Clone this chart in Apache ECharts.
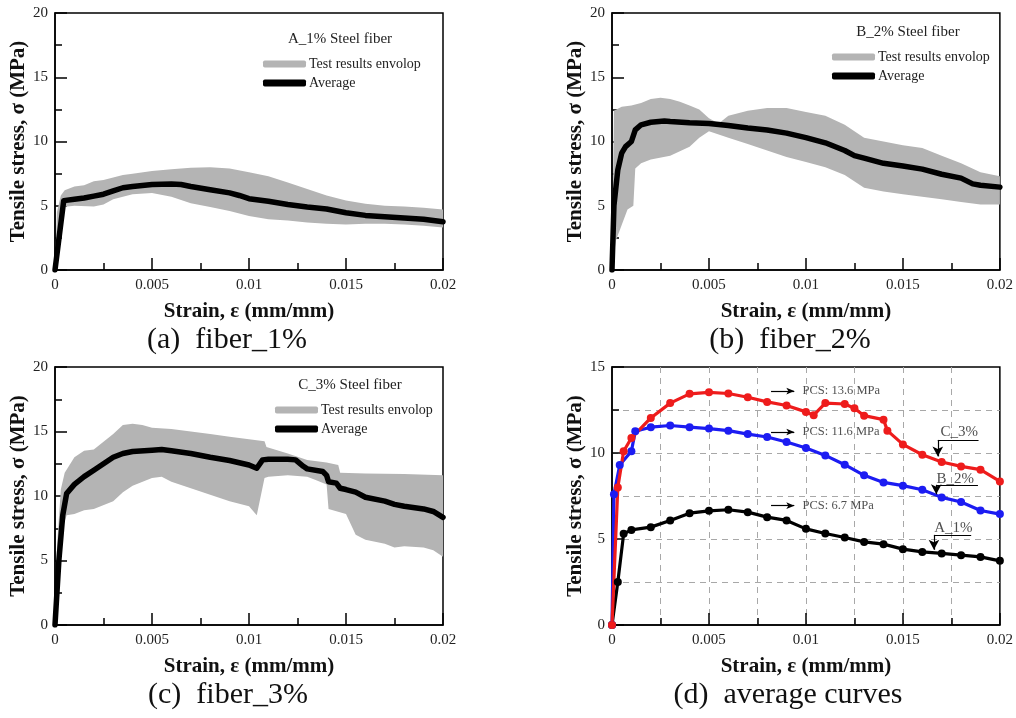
<!DOCTYPE html>
<html><head><meta charset="utf-8">
<script src="https://cdn.jsdelivr.net/npm/echarts@6/dist/echarts.min.js"></script>
<style>html,body{margin:0;padding:0;background:#fff}#c{width:1016px;height:718px}</style>
</head><body><div id="c"></div><script>
// ---------- data ----------
const avgA = [[0,0],[0.0002,2.4],[0.00045,5.4],[0.001,5.5],[0.0015,5.6],[0.002,5.75],[0.0025,5.9],[0.003,6.15],[0.0035,6.4],[0.004,6.5],[0.005,6.65],[0.006,6.7],[0.0065,6.65],[0.007,6.5],[0.008,6.25],[0.009,6.0],[0.0095,5.8],[0.01,5.55],[0.011,5.35],[0.012,5.1],[0.013,4.9],[0.014,4.75],[0.015,4.45],[0.016,4.25],[0.017,4.15],[0.018,4.05],[0.019,3.95],[0.02,3.75]];
const upA = [[0,0],[0.0001,4.5],[0.0003,5.8],[0.0005,6.2],[0.001,6.5],[0.0015,6.6],[0.002,6.9],[0.0025,7.0],[0.003,7.2],[0.0035,7.4],[0.004,7.5],[0.005,7.7],[0.006,7.85],[0.007,7.95],[0.008,8.0],[0.009,7.9],[0.01,7.6],[0.011,7.3],[0.012,6.8],[0.013,6.3],[0.014,5.8],[0.015,5.4],[0.016,5.15],[0.017,5.0],[0.018,4.95],[0.019,4.85],[0.02,4.7]];
const lowA = [[0,0],[0.0004,4.9],[0.001,5.0],[0.002,4.95],[0.0025,5.1],[0.003,5.5],[0.004,5.9],[0.005,6.0],[0.006,5.7],[0.007,5.2],[0.008,4.9],[0.009,4.6],[0.01,4.2],[0.011,3.95],[0.012,3.85],[0.013,3.7],[0.014,3.6],[0.015,3.55],[0.016,3.6],[0.017,3.6],[0.018,3.55],[0.019,3.45],[0.02,3.3]];

const avgB = [[0,0],[0.0001,5],[0.0003,7.8],[0.0005,9.1],[0.0007,9.6],[0.001,10.0],[0.0011,10.1],[0.0012,10.9],[0.0015,11.3],[0.002,11.5],[0.0027,11.6],[0.003,11.55],[0.004,11.45],[0.005,11.4],[0.006,11.25],[0.007,11.05],[0.008,10.9],[0.009,10.65],[0.01,10.3],[0.011,9.9],[0.012,9.3],[0.0125,8.9],[0.013,8.7],[0.014,8.3],[0.015,8.1],[0.016,7.85],[0.017,7.45],[0.018,7.15],[0.0186,6.7],[0.019,6.6],[0.02,6.45]];
const upB = [[0,0],[0.0001,12.4],[0.0005,12.7],[0.001,12.8],[0.0015,13.0],[0.002,13.3],[0.0025,13.4],[0.003,13.3],[0.0035,13.1],[0.004,12.8],[0.0045,12.5],[0.005,11.8],[0.0055,11.4],[0.006,12.0],[0.007,12.4],[0.008,12.6],[0.009,12.6],[0.01,12.3],[0.011,12.0],[0.012,11.3],[0.013,10.3],[0.014,10.0],[0.015,9.7],[0.016,9.5],[0.017,8.9],[0.018,8.3],[0.019,7.6],[0.02,7.3]];
const lowB = [[0,0],[0.0002,2.3],[0.0005,3.5],[0.0008,4.7],[0.0011,5.0],[0.0012,7.9],[0.0015,8.3],[0.002,8.6],[0.003,8.9],[0.004,9.6],[0.0045,10.3],[0.005,10.8],[0.006,10.3],[0.007,9.8],[0.008,9.3],[0.009,8.8],[0.01,8.4],[0.011,8.0],[0.012,7.4],[0.013,6.4],[0.014,6.1],[0.015,5.9],[0.016,5.7],[0.017,5.5],[0.018,5.3],[0.019,5.1],[0.02,5.1]];

const avgC = [[0,0],[0.0002,5],[0.0004,8.5],[0.0006,10.2],[0.001,10.9],[0.0015,11.5],[0.002,12.0],[0.0025,12.5],[0.003,13.0],[0.0035,13.3],[0.004,13.45],[0.005,13.55],[0.0055,13.6],[0.006,13.5],[0.007,13.3],[0.008,13.0],[0.009,12.75],[0.01,12.4],[0.0104,12.15],[0.0107,12.8],[0.011,12.85],[0.012,12.85],[0.0124,12.8],[0.0128,12.3],[0.013,12.1],[0.0138,11.9],[0.014,11.6],[0.0141,11.1],[0.0145,11.0],[0.0147,10.6],[0.015,10.5],[0.0155,10.3],[0.016,9.9],[0.017,9.6],[0.0175,9.35],[0.018,9.2],[0.019,9.0],[0.0195,8.8],[0.02,8.35]];
const upC = [[0,0],[0.0001,6],[0.0003,10.5],[0.0005,11.8],[0.001,13.0],[0.0015,13.5],[0.002,13.6],[0.0025,14.2],[0.003,14.8],[0.0035,15.5],[0.004,15.6],[0.0045,15.5],[0.005,15.3],[0.006,15.2],[0.007,15.0],[0.008,14.8],[0.009,14.6],[0.01,14.4],[0.0108,14.25],[0.0109,13.8],[0.012,13.3],[0.013,12.8],[0.014,12.6],[0.0146,12.4],[0.0147,11.8],[0.016,11.75],[0.018,11.7],[0.02,11.6]];
const lowC = [[0,0],[0.0002,4],[0.0004,7.5],[0.0006,8.5],[0.001,8.6],[0.0015,8.9],[0.002,9.0],[0.003,9.6],[0.0035,10.3],[0.004,10.8],[0.005,11.4],[0.0055,11.5],[0.006,11.1],[0.007,10.6],[0.008,10.1],[0.009,9.6],[0.01,9.2],[0.0104,8.5],[0.0108,11.4],[0.011,11.5],[0.012,11.6],[0.013,11.5],[0.0135,11.2],[0.014,10.9],[0.0141,9.0],[0.015,8.6],[0.0155,7.0],[0.016,6.6],[0.017,6.3],[0.0175,6.0],[0.018,6.1],[0.019,6.0],[0.0195,5.8],[0.02,5.3]];

const dA = [[0,0],[0.0003,2.5],[0.0006,5.3],[0.001,5.53],[0.002,5.69],[0.003,6.08],[0.004,6.5],[0.005,6.64],[0.006,6.7],[0.007,6.56],[0.008,6.27],[0.009,6.08],[0.01,5.59],[0.011,5.32],[0.012,5.09],[0.013,4.83],[0.014,4.7],[0.015,4.41],[0.016,4.25],[0.017,4.16],[0.018,4.06],[0.019,3.96],[0.02,3.73]];
const dB = [[0,0],[0.0001,7.6],[0.0004,9.3],[0.001,10.1],[0.0012,11.26],[0.002,11.5],[0.003,11.6],[0.004,11.5],[0.005,11.42],[0.006,11.3],[0.007,11.1],[0.008,10.93],[0.009,10.64],[0.01,10.29],[0.011,9.86],[0.012,9.32],[0.013,8.7],[0.014,8.29],[0.015,8.1],[0.016,7.86],[0.017,7.42],[0.018,7.15],[0.019,6.66],[0.02,6.45]];
const dC = [[0,0],[0.0003,8],[0.0006,10.1],[0.001,10.87],[0.002,12.04],[0.003,12.9],[0.004,13.44],[0.005,13.53],[0.006,13.46],[0.007,13.24],[0.008,12.97],[0.009,12.76],[0.01,12.39],[0.0104,12.2],[0.011,12.9],[0.012,12.85],[0.0125,12.6],[0.013,12.17],[0.014,11.94],[0.0142,11.3],[0.015,10.5],[0.016,9.9],[0.017,9.48],[0.018,9.22],[0.019,9.03],[0.02,8.35]];

const panelTitles = ['A_1% Steel fiber','B_2% Steel fiber','C_3% Steel fiber'];
const captions = ['(a)  fiber_1%','(b)  fiber_2%','(c)  fiber_3%','(d)  average curves'];
const legendNames = ['Test results envolop','Average'];
const yMaxes = [20,20,20,15];
const xName = 'Strain, \u03b5 (mm/mm)';
const yName = 'Tensile stress, \u03c3 (MPa)';

// panel d annotations (data coordinates)
const pcsLabels = [[0.0098,13.6,'PCS: 13.6 MPa'],[0.0098,11.22,'PCS: 11.6 MPa'],[0.0098,6.94,'PCS: 6.7 MPa']];
const pcsArrowX = [0.0082,0.0094];
const curveLabels = [[0.0179,11.2,'C_3%'],[0.0177,8.5,'B_2%'],[0.0176,5.66,'A_1%']];
const curvePointers = [ // [xStart, xEnd, yLine, yArrowTip]
  [0.0168,0.0189,10.76,9.8],
  [0.01672,0.01887,8.15,7.6],
  [0.0166,0.01852,5.24,4.37]
];

// ---------- chart ----------
const FONT = "'Liberation Serif','Times New Roman',Times,serif";
const GRAY = '#b4b4b4';
const grids = [
  {left:55, top:13, width:388, height:257},
  {left:612, top:13, width:388, height:257},
  {left:55, top:367, width:388, height:258},
  {left:612, top:367, width:389, height:258}
].map(g => Object.assign(g, {show:true, borderColor:'#000', borderWidth:1.5, backgroundColor:'transparent'}));

const tickStyle = {color:'#000', width:1.5};
const dashed = {show:true, showMinLine:false, showMaxLine:false, lineStyle:{type:[6,5], color:'#a8a8a8', width:1}};

const xAxes = [0,1,2,3].map(gi => ({
  type:'value', gridIndex:gi, min:0, max:0.02, interval:0.005,
  name:xName, nameLocation:'middle', nameGap:31,
  nameTextStyle:{fontFamily:FONT, fontWeight:'bold', fontSize:21, color:'#111'},
  axisLine:{onZero:false, lineStyle:tickStyle},
  axisTick:{inside:true, length:12, lineStyle:tickStyle},
  minorTick:{show:true, splitNumber:2, length:7, lineStyle:tickStyle},
  axisLabel:{fontFamily:FONT, fontSize:15, color:'#222', margin:8, formatter:v => String(+v.toFixed(3))},
  splitLine: gi===3 ? dashed : {show:false},
  minorSplitLine: gi===3 ? dashed : {show:false}
}));
const yAxes = [0,1,2,3].map(gi => ({
  type:'value', gridIndex:gi, min:0, max:yMaxes[gi], interval:5,
  name:yName, nameLocation:'middle', nameGap:25,
  nameTextStyle:{fontFamily:FONT, fontWeight:'bold', fontSize:21, color:'#111'},
  axisLine:{onZero:false, lineStyle:tickStyle},
  axisTick:{inside:true, length:12, lineStyle:tickStyle},
  minorTick:{show:true, splitNumber:2, length:7, lineStyle:tickStyle},
  axisLabel:{fontFamily:FONT, fontSize:15, color:'#222', margin:7},
  splitLine: gi===3 ? dashed : {show:false},
  minorSplitLine: gi===3 ? dashed : {show:false}
}));

function band(up, low, gi){
  return {
    type:'custom', name:legendNames[0], coordinateSystem:'cartesian2d',
    xAxisIndex:gi, yAxisIndex:gi, data:[[0,0]], silent:true, z:1,
    itemStyle:{color:GRAY},
    renderItem:function(params, api){
      const pts = up.map(p => api.coord(p)).concat(low.slice().reverse().map(p => api.coord(p)));
      return {type:'polygon', shape:{points:pts}, style:{fill:GRAY}};
    }
  };
}
function avg(data, gi){
  return {type:'line', name:legendNames[1], xAxisIndex:gi, yAxisIndex:gi, data:data,
    symbol:'none', showSymbol:false, silent:true, z:3,
    lineStyle:{color:'#000', width:5.5, join:'round', cap:'round'}, itemStyle:{color:'#000'}};
}
function dLine(name, data, color){
  return {type:'line', name:name, xAxisIndex:3, yAxisIndex:3, data:data,
    symbol:'circle', symbolSize:8, silent:true, z:3,
    lineStyle:{color:color, width:3.2}, itemStyle:{color:color}};
}

const arrowLines = [];
pcsLabels.forEach(p => arrowLines.push([{coord:[pcsArrowX[0],p[1]], symbol:'none'},{coord:[pcsArrowX[1],p[1]], symbol:'arrow', symbolSize:[5,8]}]));
curvePointers.forEach(c => {
  arrowLines.push([{coord:[c[0],c[2]], symbol:'none'},{coord:[c[1],c[2]], symbol:'none'}]);
  arrowLines.push([{coord:[c[0],c[2]], symbol:'none'},{coord:[c[0],c[3]], symbol:'arrow', symbolSize:[8,10]}]);
});

const clear = 'rgba(0,0,0,0)';
const annoSeries = [
  {type:'scatter', xAxisIndex:3, yAxisIndex:3, silent:true, z:5, symbolSize:1, itemStyle:{color:clear},
   data: pcsLabels.map(p => ({value:[p[0],p[1]], name:p[2]})),
   label:{show:true, position:'right', distance:0, formatter:p => p.name, fontFamily:FONT, fontSize:12.5, color:'#222'},
   markLine:{silent:true, animation:false, label:{show:false}, lineStyle:{color:'#000', width:1.2, type:'solid'},
     data: arrowLines}},
  {type:'scatter', xAxisIndex:3, yAxisIndex:3, silent:true, z:5, symbolSize:1, itemStyle:{color:clear},
   data: curveLabels.map(p => ({value:[p[0],p[1]], name:p[2]})),
   label:{show:true, position:'inside', formatter:p => p.name, fontFamily:FONT, fontSize:15, color:'#222'}}
];

const legendPos = [{left:258, top:52},{left:827, top:45},{left:270, top:398}];
const legends = legendPos.map(p => ({
  left:p.left, top:p.top, orient:'vertical', itemWidth:43, itemHeight:7, itemGap:5, selectedMode:false,
  textStyle:{fontFamily:FONT, fontSize:14, color:'#222', padding:[0,0,0,-2]},
  data:[{name:legendNames[0], icon:'roundRect', itemStyle:{color:GRAY}},
        {name:legendNames[1], icon:'roundRect', itemStyle:{color:'#000'}}]
}));

const headerPos = [[340,39],[908,32],[350,385]];
const captionPos = [[227,340],[790,340],[228,695],[788,695]];
const graphics = [];
panelTitles.forEach((t,i) => graphics.push({type:'text', x:headerPos[i][0], y:headerPos[i][1], silent:true,
  style:{text:t, fontFamily:FONT, fontSize:15, fill:'#222', align:'center', verticalAlign:'middle'}}));
captions.forEach((t,i) => graphics.push({type:'text', x:captionPos[i][0], y:captionPos[i][1], silent:true,
  style:{text:t, fontFamily:FONT, fontSize:30, fill:'#111', align:'center', verticalAlign:'middle'}}));

const chart = echarts.init(document.getElementById('c'), null, {renderer:'canvas'});
chart.setOption({
  animation:false,
  backgroundColor:'#fff',
  grid:grids, xAxis:xAxes, yAxis:yAxes, legend:legends, graphic:graphics,
  series:[
    band(upA, lowA, 0), band(upB, lowB, 1), band(upC, lowC, 2),
    avg(avgA, 0), avg(avgB, 1), avg(avgC, 2),
    dLine('A_1%', dA, '#000000'), dLine('B_2%', dB, '#1c1cf2'), dLine('C_3%', dC, '#ee1c1c')
  ].concat(annoSeries)
});
</script></body></html>
